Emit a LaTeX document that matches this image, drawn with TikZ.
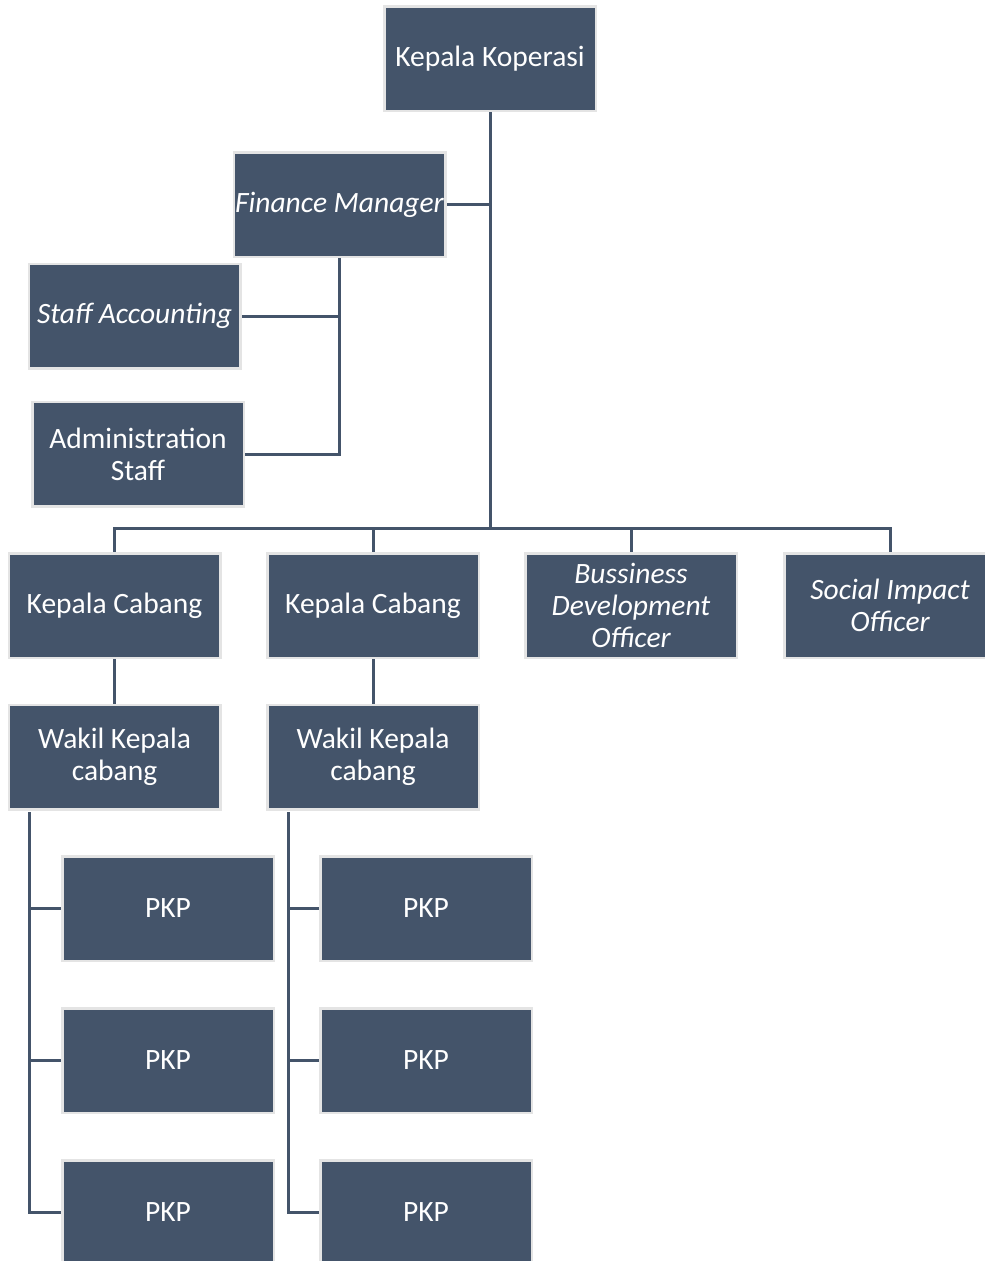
\documentclass[tikz,border=0pt]{standalone}
\usepackage{fontspec}
\setmainfont{Carlito}
\usetikzlibrary{backgrounds}
\definecolor{boxfill}{HTML}{44546A}
\definecolor{boxedge}{HTML}{E4E4E4}
\begin{document}
\begin{tikzpicture}[x=1pt,y=-1pt,
  box/.style={fill=boxfill, draw=boxedge, line width=2.5pt, minimum width=211.5pt, minimum height=104.5pt,
    text=white, align=center, font=\fontsize{29.5}{32}\selectfont, inner sep=0pt},
  ibox/.style={box, font=\fontsize{29.5}{32}\selectfont\itshape},
  link/.style={draw=boxfill, line width=3pt}]
\useasboundingbox (0,0) rectangle (985,1261);
\clip (0,0) rectangle (985,1261);

\node[box]  (kk)  at (490,58.5)   {Kepala Koperasi};
\node[ibox] (fm)  at (339.5,204.5) {Finance Manager};
\node[ibox] (sa)  at (134.5,316)  {Staff Accounting};
\node[box]  (adm) at (138,454)    {Administration\\Staff};
\node[box]  (kc1) at (114.5,605.5) {Kepala Cabang};
\node[box]  (kc2) at (373,605.5)  {Kepala Cabang};
\node[ibox] (bdo) at (631,605.5)  {Bussiness\\Development\\Officer};
\node[ibox] (sio) at (890,605.5)  {Social Impact\\Officer};
\node[box]  (wk1) at (114.5,757)  {Wakil Kepala\\cabang};
\node[box]  (wk2) at (373,757)    {Wakil Kepala\\cabang};
\node[box]  (p11) at (168,908.5)  {PKP};
\node[box]  (p12) at (168,1060.5) {PKP};
\node[box]  (p13) at (168,1212.5) {PKP};
\node[box]  (p21) at (426,908.5)  {PKP};
\node[box]  (p22) at (426,1060.5) {PKP};
\node[box]  (p23) at (426,1212.5) {PKP};

\coordinate (bar) at (490,528);
\coordinate (wl1) at (29,812);
\coordinate (wl2) at (288,812);

\begin{pgfonlayer}{background}
\draw[link] (kk.south) -- (bar);
\draw[link] (fm.east) -- (fm.east -| bar);
\draw[link] (kc1.north) |- (bar) -| (sio.north);
\draw[link] (kc2.north) -- (kc2.north |- bar);
\draw[link] (bdo.north) -- (bdo.north |- bar);
\draw[link] (fm.south) |- (adm.east);
\draw[link] (sa.east) -- (sa.east -| fm.south);
\draw[link] (kc1.south) -- (wk1.north);
\draw[link] (kc2.south) -- (wk2.north);
\draw[link] (wl1) |- (p13.west);
\draw[link] (p11.west) -- (p11.west -| wl1);
\draw[link] (p12.west) -- (p12.west -| wl1);
\draw[link] (wl2) |- (p23.west);
\draw[link] (p21.west) -- (p21.west -| wl2);
\draw[link] (p22.west) -- (p22.west -| wl2);
\end{pgfonlayer}
\end{tikzpicture}
\end{document}
